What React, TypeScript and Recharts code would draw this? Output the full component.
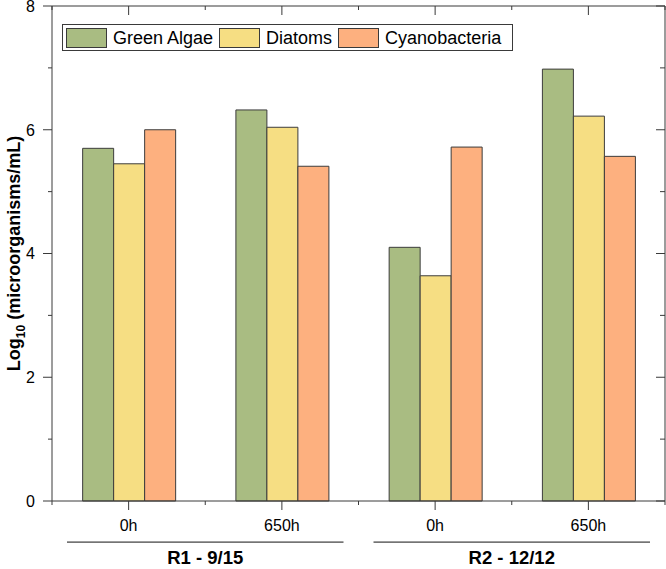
import React from "react";
import { BarChart, Bar, XAxis, YAxis, Legend } from "recharts";

const periods = ["0h", "650h", "0h", "650h"];
const runs = ["R1 - 9/15", "R1 - 9/15", "R2 - 12/12", "R2 - 12/12"];
const seriesNames = ["Green Algae", "Diatoms", "Cyanobacteria"];
const greenAlgae = [5.7, 6.32, 4.1, 6.98];
const diatoms = [5.45, 6.04, 3.64, 6.22];
const cyanobacteria = [6.0, 5.41, 5.72, 5.57];
const yTicks = [0, 1, 2, 3, 4, 5, 6, 7, 8];

const FONT = '"Liberation Sans", Arial, sans-serif';
const AXIS = "#3a3a3a";
const W = 666;
const H = 569;
const MARGIN = { top: 6, right: 1, left: 0, bottom: 0 };
const PLOT_TOP = MARGIN.top;
const PLOT_RIGHT = W - MARGIN.right;

const data = periods.map((p, i) => ({
  key: `${runs[i]} ${p} ${i}`,
  green: greenAlgae[i],
  diatoms: diatoms[i],
  cyano: cyanobacteria[i],
}));

// bottom ticks + mirrored ticks on the top frame: long at centres, short at borders
function XTick(props: any) {
  const x = Number(props.x);
  const y = Number(props.y);
  const { payload, index } = props;
  const half = Number(payload?.offset) || 0;
  const last = index === periods.length - 1;
  let group = null;
  if (index === 0 || runs[index] !== runs[index - 1]) {
    let n = 1;
    while (runs[index + n] === runs[index]) n++;
    const start = x - half;
    const end = x - half + 2 * half * n;
    group = (
      <g>
        <rect x={start + 15} y={y + 40.5} width={end - start - 30} height={1.2} fill={AXIS} />
        <text x={(start + end) / 2} y={y + 63} textAnchor="middle" fontFamily={FONT} fontSize={18.5} fontWeight="bold" fill="#000">
          {runs[index]}
        </text>
      </g>
    );
  }
  const marks = [y, PLOT_TOP].map((yy) => (
    <g key={yy}>
      <rect x={x - 0.5} y={yy} width={1} height={9} fill={AXIS} />
      <rect x={x - half - 0.5} y={yy} width={1} height={4} fill={AXIS} />
      {last && <rect x={x + half - 0.5} y={yy} width={1} height={4} fill={AXIS} />}
    </g>
  ));
  return (
    <g>
      {index === 0 && (
        <rect x={x - half} y={PLOT_TOP - 0.5} width={2 * half * periods.length} height={1} fill={AXIS} />
      )}
      {marks}
      <text x={x} y={y + 30} textAnchor="middle" fontFamily={FONT} fontSize={16} fill="#000">
        {periods[index]}
      </text>
      {group}
    </g>
  );
}

// left ticks (outward) + right frame ticks (inward)
function YTick(props: any) {
  const x = Number(props.x);
  const y = Number(props.y);
  const { payload } = props;
  const major = payload.value % 2 === 0;
  return (
    <g>
      {payload.value === 0 && (
        <rect x={PLOT_RIGHT - 0.5} y={PLOT_TOP} width={1} height={y - PLOT_TOP} fill={AXIS} />
      )}
      <rect x={x - (major ? 9 : 4)} y={y - 0.5} width={major ? 9 : 4} height={1} fill={AXIS} />
      <rect x={PLOT_RIGHT - (major ? 9 : 5)} y={y - 0.5} width={major ? 9 : 5} height={1} fill={AXIS} />
      {major && (
        <text x={x - 17} y={y} dy="0.36em" textAnchor="end" fontFamily={FONT} fontSize={16} fill="#000">
          {payload.value}
        </text>
      )}
    </g>
  );
}

function YTitle(props: any) {
  const vb = props.viewBox || {};
  const cy = (vb.y ?? 6) + (vb.height ?? 495) / 2;
  return (
    <text x={0} y={0} transform={`translate(20, ${cy}) rotate(-90)`} textAnchor="middle" fontFamily={FONT} fontSize={18} fontWeight="bold" fill="#000">
      <tspan>Log</tspan>
      <tspan fontSize={12} dy={5}>10</tspan>
      <tspan dy={-5}> (microorganisms/mL)</tspan>
    </text>
  );
}

function LegendBox(props: any) {
  const items = [...(props.payload || [])].sort(
    (a: any, b: any) => seriesNames.indexOf(a.value) - seriesNames.indexOf(b.value)
  );
  return (
    <div
      style={{
        display: "flex",
        alignItems: "center",
        boxSizing: "border-box",
        width: 451,
        height: 27,
        border: `1px solid ${AXIS}`,
        padding: "0 3px",
        background: "#fff",
        fontFamily: FONT,
        fontSize: 18,
        color: "#000",
      }}
    >
      {items.map((it: any) => (
        <div key={it.value} style={{ display: "flex", alignItems: "center", marginRight: 6 }}>
          <span
            style={{
              display: "inline-block",
              boxSizing: "border-box",
              width: 41,
              height: 20,
              background: it.color,
              border: `1px solid ${AXIS}`,
              marginRight: 6,
            }}
          />
          <span style={{ lineHeight: "20px" }}>{it.value}</span>
        </div>
      ))}
    </div>
  );
}

export default function App() {
  return (
    <div style={{ position: "absolute", left: 0, top: 0, background: "#fff" }}>
      <BarChart width={W} height={H} data={data} margin={MARGIN} barCategoryGap="20%" barGap={0}>
        <XAxis
          dataKey="key"
          height={68}
          interval={0}
          tickSize={0}
          tickMargin={0}
          tickLine={false}
          stroke={AXIS}
          tick={<XTick />}
        />
        <YAxis
          type="number"
          domain={[0, 8]}
          ticks={yTicks}
          interval={0}
          width={52}
          tickSize={0}
          tickMargin={0}
          tickLine={false}
          stroke={AXIS}
          tick={<YTick />}
          label={{ content: (p: any) => <YTitle {...p} /> }}
        />
        <Legend
          layout="horizontal"
          align="center"
          verticalAlign="middle"
          content={<LegendBox />}
          wrapperStyle={{ left: 62, top: 24, width: 451, height: 27 }}
        />
        <Bar dataKey="green" name="Green Algae" fill="#a9bc82" stroke="#3c3c3c" strokeWidth={1} isAnimationActive={false} />
        <Bar dataKey="diatoms" name="Diatoms" fill="#f6de83" stroke="#3c3c3c" strokeWidth={1} isAnimationActive={false} />
        <Bar dataKey="cyano" name="Cyanobacteria" fill="#fdb07f" stroke="#3c3c3c" strokeWidth={1} isAnimationActive={false} />
      </BarChart>
    </div>
  );
}
